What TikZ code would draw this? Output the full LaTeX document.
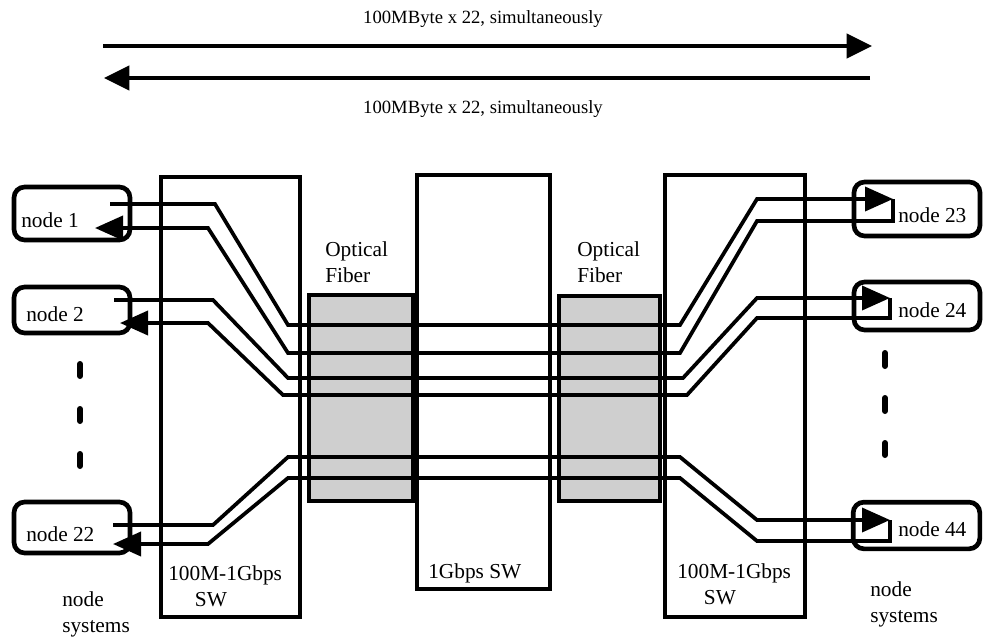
\documentclass[tikz,border=0pt]{standalone}
\usepackage{fontspec}
\setmainfont{Liberation Serif}
\usepackage{tikz}
\usetikzlibrary{arrows.meta,calc}

\begin{document}
\begin{tikzpicture}[x=0.75pt, y=-0.75pt,
    swbox/.style={draw=black, line width=3.4pt},
    fiberbox/.style={draw=black, fill=black!19, line width=2.4pt},
    nodebox/.style={draw=black, line width=3.5pt, rounded corners=8pt, inner sep=0pt},
    link/.style={line width=2.8pt},
    tip/.style={-{Triangle[length=21pt,width=18pt]}},
    bigarrow/.style={line width=3pt, -{Triangle[length=19pt,width=18pt]}},
    dotbar/.style={line width=4.5pt, line cap=round},
    lbl/.style={font=\fontsize{16}{19}\selectfont, inner sep=0pt, anchor=base west, align=left}]

    % 0. Khung hình (giữ đúng tỉ lệ 983x639)
    \useasboundingbox (0,0) rectangle (983,639);
    \fill[white] (0,0) rectangle (983,639);

    % 1. Hai mũi tên phía trên và nhãn
    \coordinate (topA) at (103,46);
    \coordinate (topB) at (872,46);
    \coordinate (botA) at (870,78);
    \coordinate (botB) at (104,78);
    \draw[bigarrow] (topA) -- (topB);
    \draw[bigarrow] (botA) -- (botB);
    \node[lbl, anchor=base, font=\fontsize{14}{17}\selectfont] (txtTop) at (483,23) {100MByte x 22, simultaneously};
    \node[lbl, anchor=base, font=\fontsize{14}{17}\selectfont] (txtBot) at (483,113) {100MByte x 22, simultaneously};

    % 2. Các bộ chuyển mạch (SW) và cáp quang
    \draw[swbox] (161,177) rectangle (300,617);
    \draw[swbox] (417,175) rectangle (550,589);
    \draw[swbox] (665,175) rectangle (805,617);
    \filldraw[fiberbox] (309,295) rectangle (413,501);
    \filldraw[fiberbox] (559,296) rectangle (660,501);

    % 3. Các hộp node bên trái và bên phải
    \node[nodebox, minimum width=87pt, minimum height=39.75pt] (n1) at (72,213.5) {};
    \node[nodebox, minimum width=87pt, minimum height=34.5pt] (n2) at (72,310) {};
    \node[nodebox, minimum width=87pt, minimum height=38.25pt] (n22) at (72,527.5) {};
    \node[nodebox, minimum width=94.5pt, minimum height=40.5pt] (n23) at (917,209) {};
    \node[nodebox, minimum width=94.5pt, minimum height=36pt] (n24) at (917,306) {};
    \node[nodebox, minimum width=95pt, minimum height=35pt] (n44) at (916.5,525.5) {};

    % 4. Điểm đầu / cuối của các đường nối
    \coordinate (n1out) at (110,204);
    \coordinate (n1in) at (95,228);
    \coordinate (n2out) at (114,300);
    \coordinate (n2in) at (120,323);
    \coordinate (n22out) at (113,525);
    \coordinate (n22in) at (113,544);
    \coordinate (n23in) at (893,199);
    \coordinate (n24in) at (890,298);
    \coordinate (n44in) at (890,520);

    % 5. Các đường truyền (trái -> phải có mũi tên ở bên phải)
    \draw[link, tip] (n1out) -- (215,204) -- (288,325) -- (680,325) -- (757,199) -- (n23in);
    \draw[link, tip] (n23in) -- (893,221) -- (757,221) -- (680,353) -- (288,353) -- (208,228) -- (n1in);
    \draw[link, tip] (n2out) -- (213,300) -- (288,378) -- (683,378) -- (757,298) -- (n24in);
    \draw[link, tip] (n24in) -- (890,318) -- (757,318) -- (687,395) -- (283,395) -- (208,323) -- (n2in);
    \draw[link, tip] (n22out) -- (213,525) -- (288,457) -- (680,457) -- (757,520) -- (n44in);
    \draw[link, tip] (n44in) -- (890,541) -- (757,541) -- (680,478) -- (288,478) -- (208,544) -- (n22in);

    % 6. Dấu chấm (...) giữa các node
    \draw[dotbar] (80,364) -- (80,376);
    \draw[dotbar] (80,409) -- (80,421);
    \draw[dotbar] (80,454) -- (80,466);
    \draw[dotbar] (885,353) -- (885,366);
    \draw[dotbar] (885,398) -- (885,411);
    \draw[dotbar] (885,443) -- (885,455);

    % 7. Dán nhãn (nhãn hai dòng: tọa độ là đường chân dòng cuối)
    \node[lbl] (n1lbl) at (21,227) {node 1};
    \node[lbl] (n2lbl) at (26,321) {node 2};
    \node[lbl] (n22lbl) at (26,541) {node 22};
    \node[lbl] (n23lbl) at (898,222) {node 23};
    \node[lbl] (n24lbl) at (898,317) {node 24};
    \node[lbl] (n44lbl) at (898,536) {node 44};
    \node[lbl] (fibL) at (325,282) {Optical\\Fiber};
    \node[lbl] (fibR) at (577,282) {Optical\\Fiber};
    \node[lbl] (swC) at (428,578) {1Gbps SW};
    \node[lbl] (swL) at (168,606) {100M-1Gbps\\\hspace*{20pt}SW};
    \node[lbl] (swR) at (677,604) {100M-1Gbps\\\hspace*{20pt}SW};
    \node[lbl] (sysL) at (62,632) {node\\systems};
    \node[lbl] (sysR) at (870,622) {node\\systems};

\end{tikzpicture}
\end{document}
